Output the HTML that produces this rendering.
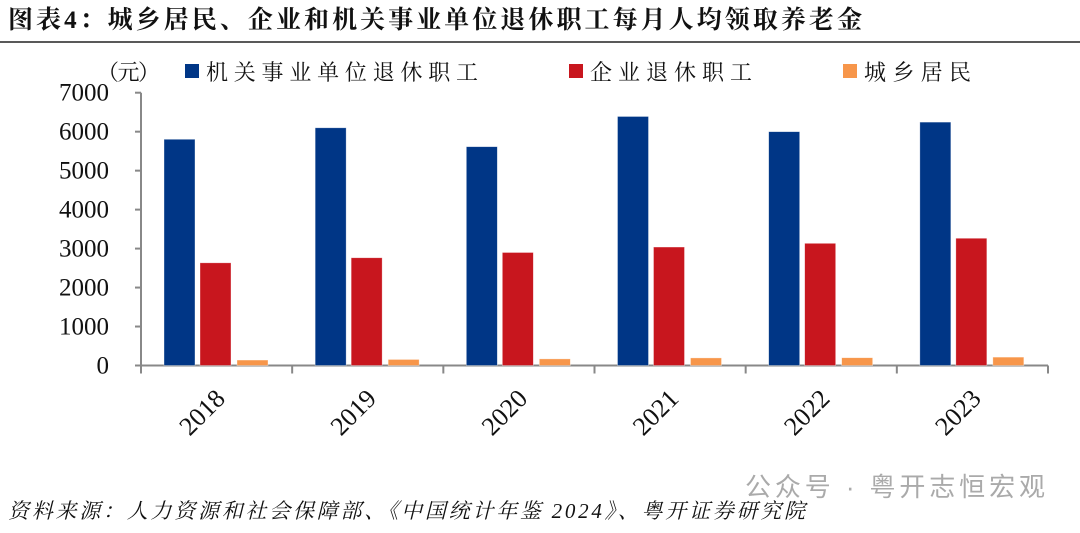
<!DOCTYPE html>
<html><head><meta charset="utf-8">
<style>
body{margin:0;background:#fff;width:1080px;height:528px;overflow:hidden;font-family:"Liberation Serif","Noto Serif CJK SC",serif;}
</style></head>
<body>
<svg width="1080" height="528" xmlns="http://www.w3.org/2000/svg">
<text x="8" y="28" font-size="25" font-weight="bold" textLength="854" lengthAdjust="spacing" font-family="Liberation Serif, Noto Serif CJK SC, serif" fill="#111">图表4：城乡居民、企业和机关事业单位退休职工每月人均领取养老金</text>
<line x1="0" y1="42" x2="1080" y2="42" stroke="#222" stroke-width="1.5"/>
<g id="axes"></g>
<g id="bars"></g>
<g id="legend" font-size="22" font-family="Liberation Serif, Noto Serif CJK SC, serif" fill="#111">
<text x="97" y="80" textLength="63" lengthAdjust="spacing">（元）</text>
<rect x="185" y="64" width="14" height="14" fill="#003686"/>
<text x="206" y="80" textLength="272" lengthAdjust="spacing">机关事业单位退休职工</text>
<rect x="569" y="64" width="14" height="14" fill="#c8161e"/>
<text x="590" y="80" textLength="162" lengthAdjust="spacing">企业退休职工</text>
<rect x="843" y="64" width="14" height="14" fill="#f7964a"/>
<text x="864" y="80" textLength="107" lengthAdjust="spacing">城乡居民</text>
</g>
<text x="745" y="496" font-size="26" textLength="300" lengthAdjust="spacing" fill="#aaa" font-family="Liberation Sans, Noto Sans CJK SC, sans-serif">公众号 · 粤开志恒宏观</text>
<text x="8" y="518" font-size="21" font-style="italic" textLength="797" lengthAdjust="spacing" fill="#111">资料来源：人力资源和社会保障部、《中国统计年鉴 2024》、粤开证券研究院</text>
</svg>
<script>
const years=["2018","2019","2020","2021","2022","2023"];
const govValues=[5805,6100,5615,6390,6000,6245];
const enterpriseValues=[2635,2765,2900,3040,3135,3265];
const ruralValues=[140,155,170,195,200,215];
const yTicks=[0,1000,2000,3000,4000,5000,6000,7000];
const NS="http://www.w3.org/2000/svg";
const x0=141,x1=1048,yBase=365.5,yTop=92.7,yMax=7000;
const gw=(x1-x0)/years.length;
function yS(v){return yBase-(v/yMax)*(yBase-yTop);}
function mk(t,a,p){const e=document.createElementNS(NS,t);for(const k in a)e.setAttribute(k,a[k]);p.appendChild(e);return e;}
const axes=document.getElementById('axes'),bars=document.getElementById('bars');
let l=mk('line',{x1:x0,y1:yTop,x2:x0,y2:yBase+6,stroke:'#888','stroke-width':2},axes);


l=mk('line',{x1:x0-6,y1:yBase,x2:x1,y2:yBase,stroke:'#888','stroke-width':2},axes);


yTicks.forEach(v=>{
  const t=mk('text',{x:x0-32,y:yS(v)+8,'text-anchor':'end','font-size':25,fill:'#111'},axes);
  t.textContent=v;
  
  
  const tk=mk('line',{x1:x0-6,y1:yS(v),x2:x0,y2:yS(v),stroke:'#888','stroke-width':2},axes);
  
  
});
for(let i=0;i<=years.length;i++){
  const x=x0+i*gw;
  const tk=mk('line',{x1:x,y1:yBase,x2:x,y2:yBase+8,stroke:'#888','stroke-width':2},axes);
  
  
}
const series=[[govValues,'#003686',23,'bar-gov'],[enterpriseValues,'#c8161e',59,'bar-enterprise'],[ruralValues,'#f7964a',96,'bar-rural']];
years.forEach((yr,i)=>{
  const gx=x0+i*gw;
  series.forEach(s=>{
    const v=s[0][i];
    const r=mk('rect',{x:gx+s[2],y:yS(v),width:31,height:yBase-yS(v),fill:s[1],stroke:'#fff','stroke-opacity':0.5,'stroke-width':0.7},bars);
    
    
  });
  const cx=gx+gw/2;
  const ax=cx+10,ay=400;
  const t=mk('text',{x:ax,y:ay,'text-anchor':'end','font-size':26,fill:'#111',transform:`rotate(-45 ${ax} ${ay})`},axes);
  t.textContent=yr;
  
  
});
</script>
</body></html>
